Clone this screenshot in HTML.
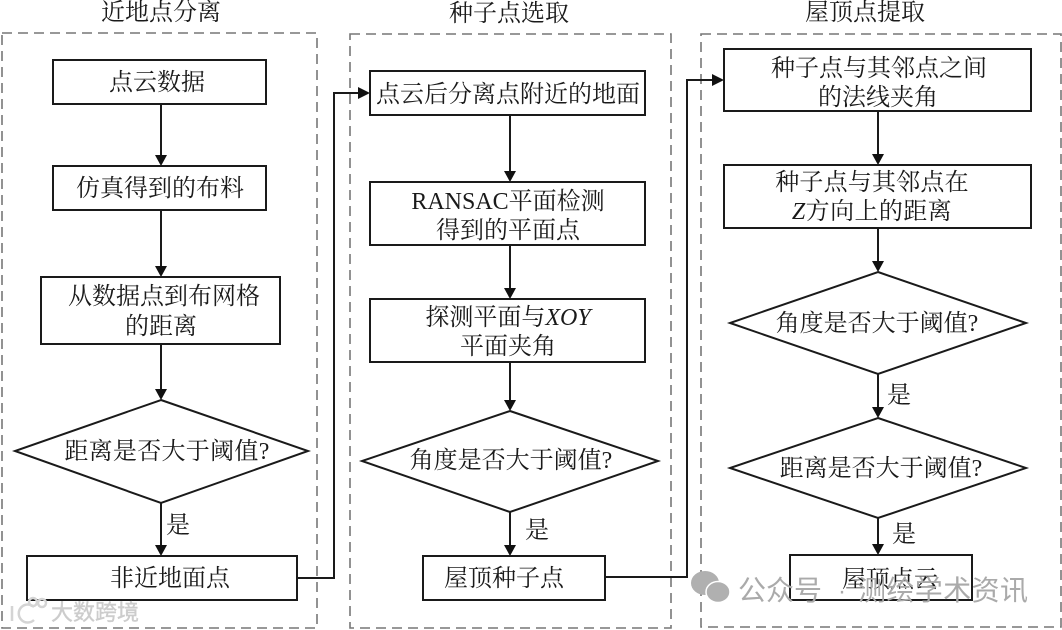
<!DOCTYPE html>
<html><head><meta charset="utf-8"><style>
html,body{margin:0;padding:0;background:#fff}
svg{display:block}
text{font-family:"Liberation Serif","Noto Serif CJK SC",serif;font-size:24px;fill:#1a1a1a;text-anchor:middle}
.w{font-family:"Liberation Sans","Noto Sans CJK SC",sans-serif;fill:#aaa;text-anchor:start}
.b{fill:#fff;stroke:#1a1a1a;stroke-width:2}
.l{fill:none;stroke:#1a1a1a;stroke-width:2}
.d{fill:none;stroke:#777;stroke-width:1.6;stroke-dasharray:10 6}
.a{fill:#111}
</style></head><body>
<svg width="1062" height="630" viewBox="0 0 1062 630" xmlns="http://www.w3.org/2000/svg">
<rect width="1062" height="630" fill="#fff"/>
<text x="161" y="20">近地点分离</text>
<text x="509" y="21">种子点选取</text>
<text x="865" y="20">屋顶点提取</text>
<rect class="d" x="2" y="33" width="315" height="595"/>
<rect class="d" x="350" y="34" width="321" height="594"/>
<rect class="d" x="701" y="34" width="360" height="593"/>

<path class="l" d="M161 104V155M161 210V266M161 344V389M161 503V545"/>
<path class="l" d="M510 115V171M510 245V288M510 362V400M510 512V545"/>
<path class="l" d="M878 111V154M878 228V261M878 374V407M878 518V544"/>
<path class="l" d="M297 578H334V93H360M605 577H687V80H714"/>
<path class="a" d="M155 155h12l-6 11zM155 266h12l-6 11zM155 389h12l-6 11zM155 545h12l-6 11z"/>
<path class="a" d="M504 171h12l-6 11zM504 288h12l-6 11zM504 400h12l-6 11zM504 545h12l-6 11z"/>
<path class="a" d="M872 154h12l-6 11zM872 261h12l-6 11zM872 407h12l-6 11zM872 544h12l-6 11z"/>
<path class="a" d="M358 87l12 6-12 6zM712 74l12 6-12 6z"/>

<rect class="b" x="53" y="60" width="213" height="44"/>
<rect class="b" x="53" y="166" width="213" height="44"/>
<rect class="b" x="41" y="277" width="239" height="67"/>
<polygon class="b" points="161,400 308,451 161,503 15,451"/>
<rect class="b" x="27" y="556" width="270" height="44"/>
<rect class="b" x="370" y="71" width="275" height="44"/>
<rect class="b" x="370" y="182" width="275" height="63"/>
<rect class="b" x="370" y="299" width="275" height="63"/>
<polygon class="b" points="510,411 658,461 510,512 362,461"/>
<rect class="b" x="423" y="556" width="182" height="44"/>
<rect class="b" x="724" y="49" width="307" height="62"/>
<rect class="b" x="724" y="165" width="307" height="63"/>
<polygon class="b" points="878,272 1026,323 878,374 730,323"/>
<polygon class="b" points="878,418 1026,468 878,518 730,468"/>
<rect class="b" x="790" y="555" width="182" height="45"/>

<text x="157" y="90">点云数据</text>
<text x="160" y="196">仿真得到的布料</text>
<text x="164" y="304">从数据点到布网格</text>
<text x="161" y="334">的距离</text>
<text x="167" y="459" style="letter-spacing:.3px">距离是否大于阈值?</text>
<text x="178" y="533">是</text>
<text x="170" y="586">非近地面点</text>
<text x="508" y="102">点云后分离点附近的地面</text>
<text x="508" y="209">RANSAC平面检测</text>
<text x="508" y="238">得到的平面点</text>
<text x="508" y="325">探测平面与<tspan font-style="italic">XOY</tspan></text>
<text x="508" y="354">平面夹角</text>
<text x="511" y="468">角度是否大于阈值?</text>
<text x="537" y="538">是</text>
<text x="504" y="586">屋顶种子点</text>
<text x="879" y="76">种子点与其邻点之间</text>
<text x="878" y="105">的法线夹角</text>
<text x="872" y="190" style="letter-spacing:.2px">种子点与其邻点在</text>
<text x="872" y="219" style="letter-spacing:.4px"><tspan font-style="italic">Z</tspan>方向上的距离</text>
<text x="877" y="331">角度是否大于阈值?</text>
<text x="899" y="403">是</text>
<text x="881" y="476">距离是否大于阈值?</text>
<text x="904" y="542">是</text>
<text x="890" y="587">屋顶点云</text>

<g fill="#b0b0b0">
<ellipse cx="705" cy="583" rx="14" ry="12"/>
<ellipse cx="718" cy="592" rx="12" ry="10.5" stroke="#fff" stroke-width="1.5"/>
</g>
<text class="w" x="738" y="600" style="font-size:28px">公众号</text>
<text class="w" x="838" y="599" style="font-size:24px">·</text>
<text class="w" x="858" y="600" style="font-size:28px;letter-spacing:.4px">测绘学术资讯</text>
<text class="w" x="51" y="620" style="font-size:22px;fill:#ccc;stroke:#ccc;stroke-width:.4">大数跨境</text>
<g fill="none" stroke="#d4d4d4" stroke-width="2.5">
<path d="M12 606v15M34 607a9 9 0 1 0 0 13"/>
<circle cx="33" cy="602" r="4"/>
<circle cx="42" cy="603" r="4"/>
</g>
</svg>
</body></html>
